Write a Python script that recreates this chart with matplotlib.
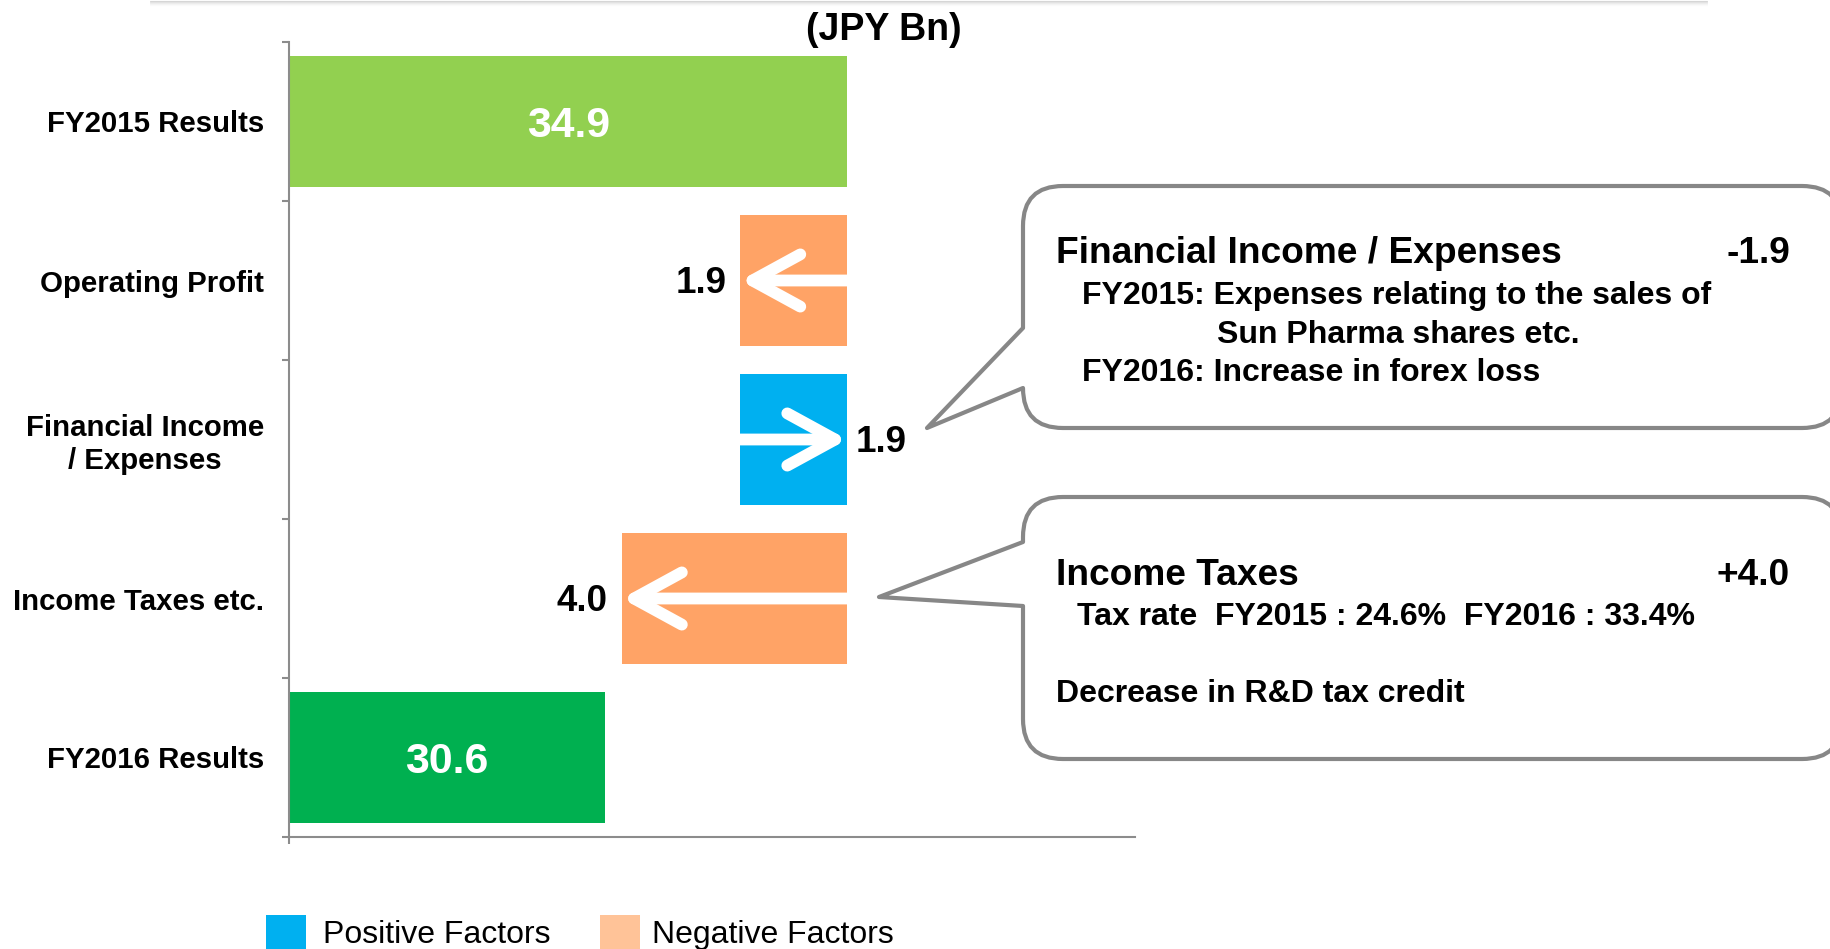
import matplotlib

matplotlib.use("Agg")
import numpy as np
from matplotlib import pyplot as plt
from matplotlib.patches import PathPatch, Rectangle
from matplotlib.path import Path

plt.rcParams["font.family"] = ["Liberation Sans", "DejaVu Sans"]

# chart data
categories = [
    "FY2015 Results",
    "Operating Profit",
    "Financial Income\n/ Expenses",
    "Income Taxes etc.",
    "FY2016 Results",
]
startValue = 34.9
deltas = [-1.9, 1.9, -4.0]
endValue = 30.6
legendLabels = ["Positive Factors", "Negative Factors"]
unitLabel = "(JPY Bn)"

finHeader = ["Financial Income / Expenses", "-1.9"]
finLines = [
    "FY2015: Expenses relating to the sales of",
    "Sun Pharma shares etc.",
    "FY2016: Increase in forex loss",
]
taxHeader = ["Income Taxes", "+4.0"]
taxLines = ["Tax rate  FY2015 : 24.6%  FY2016 : 33.4%", "Decrease in R&D tax credit"]

# styles
totalColors = ["#92D050", "#00B050"]
posColor = "#00B0F0"
negColor = "#FFA366"
legendNegColor = "#FFC398"
axisGray = "#8C8C8C"
boxGray = "#878787"

W, H = 1831, 949
fig = plt.figure(figsize=(W / 100, H / 100), dpi=100)
ax = fig.add_axes([289 / W, 1 - 837 / H, (1135 - 289) / W, (837 - 42) / H])

barHeight = 0.83
xMin, xMax = 25, 40

ax.barh(0, startValue, height=barHeight, color=totalColors[0], zorder=2)
ax.text((xMin + startValue) / 2, 0, f"{startValue:.1f}", color="white", fontsize=30.8,
        fontweight="bold", ha="center", va="center_baseline", zorder=4)

level = startValue
for i, d in enumerate(deltas, start=1):
    newLevel = level + d
    color = posColor if d > 0 else negColor
    ax.barh(i, d, left=level, height=barHeight, color=color, zorder=2)
    ax.annotate(
        "", xy=(newLevel, i), xytext=(level, i),
        arrowprops=dict(arrowstyle="->,head_length=0.86,head_width=0.47", mutation_scale=40,
                        lw=8.5, color="white", capstyle="round", joinstyle="round",
                        shrinkA=0, shrinkB=0),
        zorder=3,
    )
    if d < 0:
        ax.annotate(f"{abs(d):.1f}", xy=(min(level, newLevel), i), xytext=(-10, -9.3),
                    textcoords="offset points", ha="right", va="baseline",
                    fontsize=26.5, fontweight="bold")
    else:
        ax.annotate(f"{abs(d):.1f}", xy=(max(level, newLevel), i), xytext=(6, -9.3),
                    textcoords="offset points", ha="left", va="baseline",
                    fontsize=26.5, fontweight="bold")
    level = newLevel

last = len(categories) - 1
ax.barh(last, endValue, height=barHeight, color=totalColors[1], zorder=2)
ax.text((xMin + endValue) / 2, last, f"{endValue:.1f}", color="white", fontsize=30.8,
        fontweight="bold", ha="center", va="center_baseline", zorder=4)

ax.set_xlim(xMin, xMax)
ax.set_ylim(last + 0.5, -0.5)
for side in ["top", "right"]:
    ax.spines[side].set_visible(False)
for side in ["left", "bottom"]:
    ax.spines[side].set_color(axisGray)
    ax.spines[side].set_linewidth(1.5)

ax.set_yticks(range(len(categories)))
ax.set_yticklabels(categories, fontsize=21.2, fontweight="bold")
for lbl in ax.get_yticklabels():
    lbl.set_multialignment("center")
ax.tick_params(axis="y", which="major", length=0, pad=18)
ax.set_yticks(np.arange(-0.5, len(categories)), minor=True)
ax.tick_params(axis="y", which="minor", length=5, width=1.5, color=axisGray)
ax.set_xticks([xMin])
ax.set_xticklabels([""])
ax.tick_params(axis="x", length=5, width=1.5, color=axisGray)

# overlay in pixel coordinates for callouts, legend and unit label
ov = fig.add_axes([0, 0, 1, 1])
ov.set_xlim(0, W)
ov.set_ylim(H, 0)
ov.axis("off")

# faint shadow of the shape above the chart
for k, shade in enumerate(["#d6d6d6", "#e2e2e2", "#ececec", "#f4f4f4", "#fafafa"]):
    ov.plot([150, 1707], [k + 0.5, k + 0.5], color=shade, lw=0.8, solid_capstyle="round")


def calloutPath(x0, y0, x1, y1, r, baseTop, baseBottom, tip):
    verts = [
        (x0 + r, y0), (x1 - r, y0), (x1, y0), (x1, y0 + r),
        (x1, y1 - r), (x1, y1), (x1 - r, y1),
        (x0 + r, y1), (x0, y1), (x0, y1 - r),
        (x0, baseBottom), tip, (x0, baseTop),
        (x0, y0 + r), (x0, y0), (x0 + r, y0), (x0 + r, y0),
    ]
    codes = [
        Path.MOVETO, Path.LINETO, Path.CURVE3, Path.CURVE3,
        Path.LINETO, Path.CURVE3, Path.CURVE3,
        Path.LINETO, Path.CURVE3, Path.CURVE3,
        Path.LINETO, Path.LINETO, Path.LINETO,
        Path.LINETO, Path.CURVE3, Path.CURVE3, Path.CLOSEPOLY,
    ]
    return Path(verts, codes)


ov.add_patch(PathPatch(calloutPath(1023, 186, 1842, 428, 40, 328, 388, (927, 428)),
                       facecolor="white", edgecolor=boxGray, lw=3, joinstyle="round"))
ov.add_patch(PathPatch(calloutPath(1023, 497, 1842, 759, 40, 542, 606, (879, 597)),
                       facecolor="white", edgecolor=boxGray, lw=3, joinstyle="round"))

headFont = dict(fontsize=26.7, fontweight="bold", va="baseline")
subFont = dict(fontsize=23, fontweight="bold", va="baseline")

ov.text(1056, 263, finHeader[0], ha="left", **headFont)
ov.text(1790, 263, finHeader[1], ha="right", **headFont)
ov.text(1082, 304, finLines[0], ha="left", **subFont)
ov.text(1217, 343, finLines[1], ha="left", **subFont)
ov.text(1082, 381, finLines[2], ha="left", **subFont)

ov.text(1056, 585, taxHeader[0], ha="left", **headFont)
ov.text(1790, 585, taxHeader[1], ha="right", **headFont)
ov.text(1077, 625, taxLines[0], ha="left", **subFont)
ov.text(1056, 702, taxLines[1], ha="left", **subFont)

ov.text(884, 40, unitLabel, ha="center", va="baseline", fontsize=27, fontweight="bold")

# legend
for x, color, label, tx in [(266, posColor, legendLabels[0], 323),
                            (600, legendNegColor, legendLabels[1], 652)]:
    ov.add_patch(Rectangle((x, 915), 40, 40, facecolor=color, edgecolor="none"))
    ov.text(tx, 943, label, ha="left", va="baseline", fontsize=23)

fig.savefig("out.png", dpi=100)
